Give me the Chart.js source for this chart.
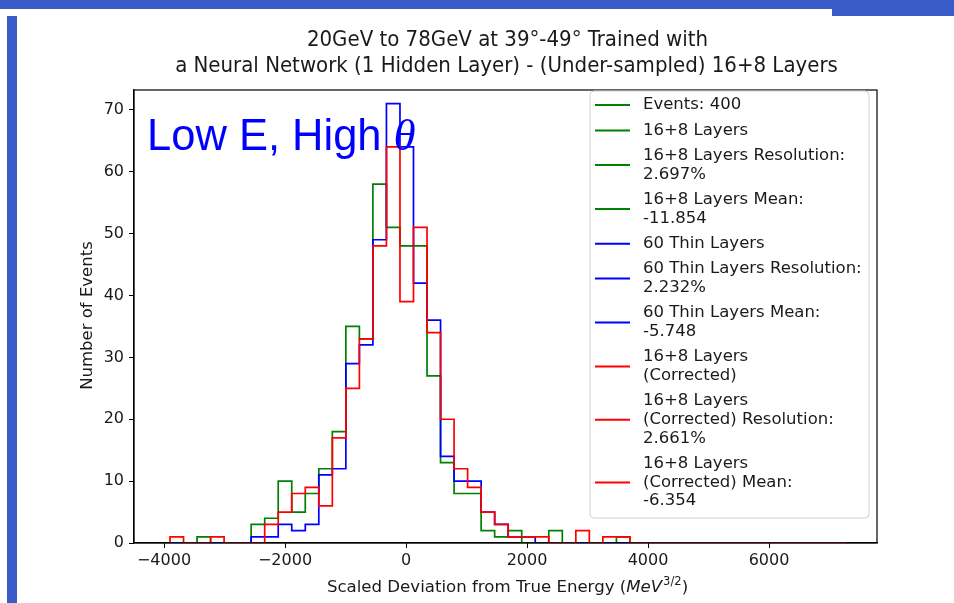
<!DOCTYPE html>
<html>
<head>
<meta charset="utf-8">
<script src="https://cdn.jsdelivr.net/npm/chart.js@4.4.1/dist/chart.umd.min.js"></script>
<style>
  html, body { margin: 0; padding: 0; background: #ffffff; }
  canvas { display: block; }
</style>
</head>
<body>
<canvas id="chart" width="954" height="603"></canvas>
<script>
// Shared histogram binning (50 equal-width bins)
const BIN_LO = -3901;
const BIN_HI = 7279;
const N_BINS = 50;

// Event counts per bin
const counts16p8 = [
  0, 0, 1, 0, 0, 0, 3, 4, 10, 5,
  8, 12, 18, 35, 33, 58, 51, 48, 48, 27,
  13, 8, 8, 2, 1, 2, 0, 0, 2, 0,
  0, 0, 0, 1, 0, 0, 0, 0, 0, 0,
  0, 0, 0, 0, 0, 0, 0, 0, 0, 0
];
const countsThin = [
  0, 0, 0, 0, 0, 0, 1, 1, 3, 2,
  3, 11, 12, 29, 32, 49, 71, 64, 42, 36,
  14, 10, 10, 5, 3, 1, 1, 0, 0, 0,
  0, 0, 0, 0, 0, 0, 0, 0, 0, 0,
  0, 0, 0, 0, 0, 0, 0, 0, 0, 0
];
const countsCorrected = [
  1, 0, 0, 1, 0, 0, 0, 3, 5, 8,
  9, 6, 17, 25, 33, 48, 64, 39, 51, 34,
  20, 12, 9, 5, 3, 1, 1, 1, 0, 0,
  2, 0, 1, 1, 0, 0, 0, 0, 0, 0,
  0, 0, 0, 0, 0, 0, 0, 0, 0, 0
];

// Axis ticks
const X_TICKS = [-4000, -2000, 0, 2000, 4000, 6000];
const Y_TICKS = [0, 10, 20, 30, 40, 50, 60, 70];

// Text
const TITLE_LINES = [
  "20GeV to 78GeV at 39\u00b0-49\u00b0 Trained with",
  "a Neural Network (1 Hidden Layer) - (Under-sampled) 16+8 Layers"
];
const Y_LABEL = "Number of Events";
const X_LABEL_PARTS = ["Scaled Deviation from True Energy (", "MeV", "3/2", ")"];
const NOTE_TEXT = "Low E, High ";
const NOTE_SYMBOL = "\u03b8";

const GREEN = "#008000", BLUE = "#0000ff", RED = "#ff0000";
const LEGEND_ENTRIES = [
  { color: GREEN, lines: ["Events: 400"] },
  { color: GREEN, lines: ["16+8 Layers"] },
  { color: GREEN, lines: ["16+8 Layers Resolution:", "2.697%"] },
  { color: GREEN, lines: ["16+8 Layers Mean:", "-11.854"] },
  { color: BLUE,  lines: ["60 Thin Layers"] },
  { color: BLUE,  lines: ["60 Thin Layers Resolution:", "2.232%"] },
  { color: BLUE,  lines: ["60 Thin Layers Mean:", "-5.748"] },
  { color: RED,   lines: ["16+8 Layers", "(Corrected)"] },
  { color: RED,   lines: ["16+8 Layers", "(Corrected) Resolution:", "2.661%"] },
  { color: RED,   lines: ["16+8 Layers", "(Corrected) Mean:", "-6.354"] }
];

const FONT = "'DejaVu Sans', sans-serif";
const TEXT_COLOR = "#1a1a1a";

const edges = Array.from({ length: N_BINS + 1 }, (_, i) => BIN_LO + i * (BIN_HI - BIN_LO) / N_BINS);

// Outline of a step histogram: up from the first edge, across each bin, down at the last edge
function stepPoints(counts) {
  const pts = [{ x: edges[0], y: 0 }];
  counts.forEach((c, i) => pts.push({ x: edges[i], y: c }));
  pts.push({ x: edges[N_BINS], y: 0 });
  return pts;
}

function minusFormat(v) {
  return v < 0 ? "\u2212" + Math.abs(v) : String(v);
}

const decorations = {
  id: "decorations",
  beforeDraw(chart) {
    const ctx = chart.ctx;
    ctx.save();
    ctx.fillStyle = "#ffffff";
    ctx.fillRect(0, 0, chart.width, chart.height);
    // slide border
    ctx.fillStyle = "#3a5cc8";
    ctx.fillRect(0, 0, 832, 9);
    ctx.fillRect(832, 0, 122, 16);
    ctx.fillRect(7, 16, 10, 587);
    ctx.restore();
  },
  afterDatasetsDraw(chart) {
    const ctx = chart.ctx;
    const a = chart.chartArea;
    ctx.save();
    // axes frame
    ctx.strokeStyle = "#000000";
    ctx.lineWidth = 1.2;
    ctx.strokeRect(a.left, a.top, a.right - a.left, a.bottom - a.top);

    // annotation
    ctx.fillStyle = "#0000ff";
    ctx.textBaseline = "alphabetic";
    ctx.textAlign = "left";
    ctx.font = "43.5px 'Liberation Sans', Arial, sans-serif";
    ctx.fillText(NOTE_TEXT, 147, 150);
    const w = ctx.measureText(NOTE_TEXT).width;
    ctx.font = "italic 45px 'Liberation Serif', 'Times New Roman', serif";
    ctx.fillText(NOTE_SYMBOL, 147 + w, 150);
    ctx.restore();
  },
  afterDraw(chart) {
    const ctx = chart.ctx;
    const a = chart.chartArea;
    const cx = (a.left + a.right) / 2;
    ctx.save();

    // title
    ctx.fillStyle = TEXT_COLOR;
    ctx.textAlign = "center";
    ctx.textBaseline = "middle";
    ctx.font = "22px 'DejaVu Sans Condensed', 'DejaVu Sans', sans-serif";
    ctx.fillText(TITLE_LINES[0], cx + 2, 40);
    ctx.fillText(TITLE_LINES[1], cx + 1, 66);

    // y axis label
    ctx.save();
    ctx.translate(88, (a.top + a.bottom) / 2 - 1);
    ctx.rotate(-Math.PI / 2);
    ctx.font = "16.5px " + FONT;
    ctx.fillText(Y_LABEL, 0, 0);
    ctx.restore();

    // x axis label with italic unit and superscript
    const fN = "16.6px " + FONT;
    const fI = "italic 16.6px " + FONT;
    const fS = "11.5px " + FONT;
    ctx.textAlign = "left";
    ctx.font = fN; const w0 = ctx.measureText(X_LABEL_PARTS[0]).width;
    ctx.font = fI; const w1 = ctx.measureText(X_LABEL_PARTS[1]).width;
    ctx.font = fS; const w2 = ctx.measureText(X_LABEL_PARTS[2]).width;
    ctx.font = fN; const w3 = ctx.measureText(X_LABEL_PARTS[3]).width;
    let x = 507 - (w0 + w1 + w2 + w3) / 2;
    const y = 588;
    ctx.font = fN; ctx.fillText(X_LABEL_PARTS[0], x, y); x += w0;
    ctx.font = fI; ctx.fillText(X_LABEL_PARTS[1], x, y); x += w1;
    ctx.font = fS; ctx.fillText(X_LABEL_PARTS[2], x + 1, y - 6); x += w2 + 1;
    ctx.font = fN; ctx.fillText(X_LABEL_PARTS[3], x, y);

    // legend
    const box = { l: 590, t: 91, r: 869, b: 518 };
    ctx.beginPath();
    ctx.roundRect(box.l, box.t, box.r - box.l, box.b - box.t, 4);
    ctx.fillStyle = "rgba(255,255,255,0.85)";
    ctx.fill();
    ctx.strokeStyle = "#d0d0d0";
    ctx.lineWidth = 1;
    ctx.stroke();

    ctx.font = "16.5px " + FONT;
    ctx.textBaseline = "middle";
    const pitch = 18.6, gap = 25.4;
    let ly = 105;
    LEGEND_ENTRIES.forEach(entry => {
      const n = entry.lines.length;
      const mid = ly + (n - 1) * pitch / 2;
      ctx.strokeStyle = entry.color;
      ctx.lineWidth = 2;
      ctx.beginPath();
      ctx.moveTo(595, mid);
      ctx.lineTo(630, mid);
      ctx.stroke();
      ctx.fillStyle = TEXT_COLOR;
      entry.lines.forEach((t, k) => ctx.fillText(t, 643, ly + k * pitch));
      ly += (n - 1) * pitch + gap;
    });
    ctx.restore();
  }
};

const tickFont = { family: "'DejaVu Sans', sans-serif", size: 16 };

new Chart(document.getElementById("chart"), {
  type: "line",
  data: {
    datasets: [
      { label: "16+8 Layers", data: stepPoints(counts16p8), borderColor: GREEN, order: 3 },
      { label: "60 Thin Layers", data: stepPoints(countsThin), borderColor: BLUE, order: 2 },
      { label: "16+8 Layers (Corrected)", data: stepPoints(countsCorrected), borderColor: RED, order: 1 }
    ].map(d => Object.assign(d, {
      stepped: "before", pointRadius: 0, borderWidth: 1.7, fill: false, tension: 0
    }))
  },
  options: {
    responsive: false,
    animation: false,
    events: [],
    layout: { padding: { top: 90, right: 77, bottom: 0, left: 0 } },
    plugins: { legend: { display: false }, title: { display: false }, tooltip: { enabled: false } },
    scales: {
      x: {
        type: "linear",
        min: -4496,
        max: 7785,
        afterBuildTicks: s => { s.ticks = X_TICKS.map(v => ({ value: v })); },
        afterFit: s => { s.height = 60; },
        ticks: { font: tickFont, color: TEXT_COLOR, padding: 3, maxRotation: 0, callback: minusFormat },
        grid: { drawOnChartArea: false, drawTicks: true, tickLength: 5, color: "#000000", tickWidth: 1 },
        border: { display: true, color: "#000000", width: 1.2 }
      },
      y: {
        type: "linear",
        min: 0,
        max: 73.2,
        afterBuildTicks: s => { s.ticks = Y_TICKS.map(v => ({ value: v })); },
        afterFit: s => { s.width = 134; },
        ticks: { font: tickFont, color: TEXT_COLOR, padding: 5, callback: minusFormat },
        grid: { drawOnChartArea: false, drawTicks: true, tickLength: 5, color: "#000000", tickWidth: 1 },
        border: { display: true, color: "#000000", width: 1.2 }
      }
    }
  },
  plugins: [decorations]
});
</script>
</body>
</html>
